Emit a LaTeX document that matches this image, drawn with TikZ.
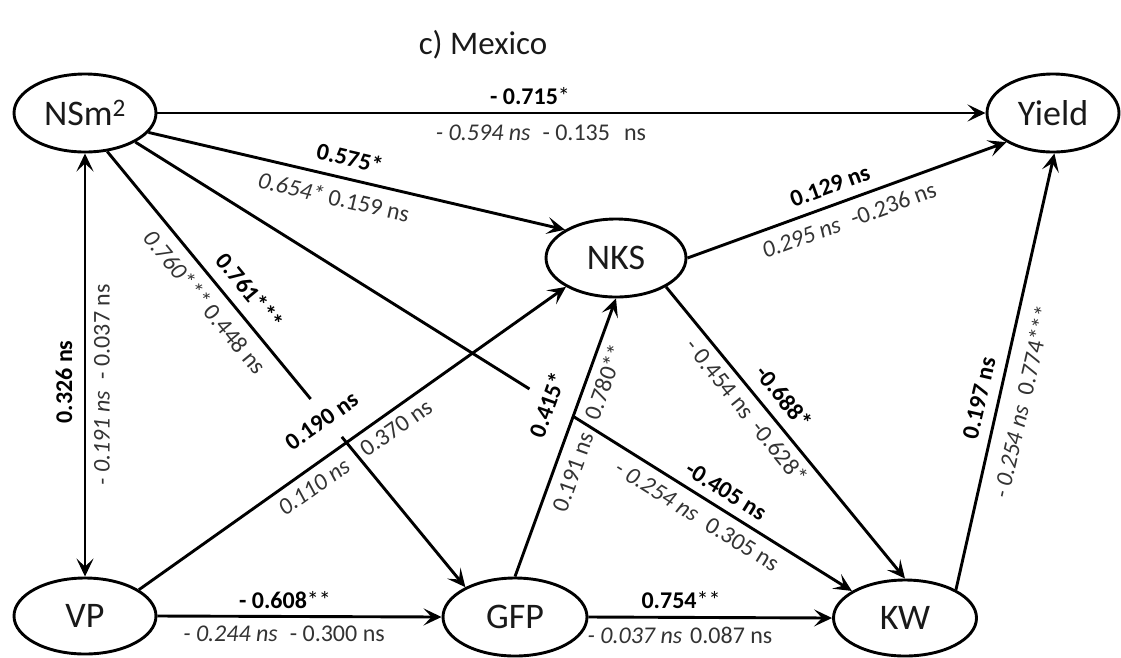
\documentclass[tikz,border=0pt]{standalone}
\usepackage{fontspec}
\setmainfont{Carlito}
\usetikzlibrary{arrows.meta,shapes.geometric,calc}
\begin{document}
\begin{tikzpicture}[x=1pt,y=-1pt,
  >={Stealth[length=18pt,width=17pt,inset=8pt]},
  varnode/.style={ellipse, draw, line width=2.9pt, inner sep=0pt, font=\fontsize{36}{40}\selectfont, text=black!90},
  conn/.style={line width=2.9pt},
  lab/.style={inner sep=0pt, font=\fontsize{24}{28}\selectfont, text=black!80},
  blab/.style={inner sep=0pt, font=\fontsize{24}{28}\selectfont\bfseries, text=black},
]
\useasboundingbox (0,0) rectangle (1121,657);

\node[font=\fontsize{33}{36}\selectfont, text=black!90] (title) at (483,45) {c) Mexico};

% variables
\node[varnode, minimum width=142pt, minimum height=78pt] (nsm) at (85,113) {NSm\textsuperscript{2}};
\node[varnode, minimum width=132pt, minimum height=78pt] (yield) at (1053,113) {Yield};
\node[varnode, minimum width=140pt, minimum height=78pt] (nks) at (616,258) {NKS};
\node[varnode, minimum width=142pt, minimum height=76pt] (vp) at (85,616) {VP};
\node[varnode, minimum width=144pt, minimum height=78pt] (gfp) at (515,617) {GFP};
\node[varnode, minimum width=143pt, minimum height=76pt] (kw) at (905,618) {KW};

% break points of the two interrupted connectors
\coordinate (a1) at ($(nsm.-60)!0.568!(gfp.149)$);
\coordinate (a2) at ($(nsm.-60)!0.655!(gfp.149)$);
\coordinate (b1) at ($(nsm.-30)!0.55!(kw.153)$);
\coordinate (b2) at ($(nsm.-30)!0.61!(kw.153)$);

% connectors
\draw[conn,->] (nsm.east) -- (yield.west);
\draw[conn,->] (nsm.-17) -- (nks.151);
\draw[conn,<->] (nsm.south) -- (vp.north);
\draw[conn] (nsm.-60) -- (a1);
\draw[conn,->] (a2) -- (gfp.149);
\draw[conn] (nsm.-30) -- (b1);
\draw[conn,->] (b2) -- (kw.153);
\draw[conn,->] (nks.east) -- (yield.212);
\draw[conn,->] (nks.-30) -- (kw.north);
\draw[conn,->] (vp.26) -- (nks.210);
\draw[conn,->] (vp.east) -- (gfp.west);
\draw[conn,->] (gfp.north) -- (nks.south);
\draw[conn,->] (gfp.east) -- (kw.west);
\draw[conn,->] (kw.29) -- (yield.-88);

% labels
\node[blab] (l1a) at (530,96) {- 0.715\mdseries*};
\node[lab] (l1b) at (541,133) {\textit{- 0.594 ns}\hspace{12pt}- 0.135\hspace{14pt}ns};

\node[blab, rotate=-13] (l2a) at (350,158) {0.575*};
\node[lab, rotate=-13] (l2b) at (334,197) {\textit{0.654*} 0.159 ns};

\node[blab, rotate=90] (l3a) at (64,382) {0.326 ns};
\node[lab, rotate=90] (l3b) at (102,385) {\textit{- 0.191 ns}\hspace{12pt}- 0.037 ns};

\node[blab, rotate=-50.5] (l4a) at (250,291) {0.761***};
\node[lab, rotate=-50.5] (l4b) at (205,302) {\textit{0.760***} 0.448 ns};

\node[blab, rotate=-32] (l5a) at (726,491) {-0.405 ns};
\node[lab, rotate=-32] (l5b) at (697,516) {\textit{- 0.254 ns}\hspace{12pt}0.305 ns};

\node[blab, rotate=20] (l6a) at (830,186) {0.129 ns};
\node[lab, rotate=20] (l6b) at (849,220) {\textit{0.295 ns}\hspace{12pt}-0.236 ns};

\node[blab, rotate=-51] (l7a) at (784,397) {-0.688*};
\node[lab, rotate=-51] (l7b) at (747,411) {- 0.454 ns\hspace{10pt}-0.628*};

\node[blab, rotate=35.2] (l8a) at (322,421) {0.190 ns};
\node[lab, rotate=35.2] (l8b) at (314,487) {\textit{0.110 ns}};
\node[lab, rotate=35.2] (l8c) at (396,428) {0.370 ns};

\node[blab] (l9a) at (285,600) {- 0.608\mdseries**};
\node[lab] (l9b) at (284,634) {\textit{- 0.244 ns}\hspace{12pt}- 0.300 ns};

\node[blab, rotate=70.3] (l10a) at (547,405) {0.415*};
\node[lab, rotate=70.3] (l10b) at (573,472) {0.191 ns};
\node[lab, rotate=70.3] (l10c) at (604,382) {0.780**};

\node[blab] (l12a) at (681,600) {0.754\mdseries**};
\node[lab] (l12b) at (680,635) {\textit{- 0.037 ns}\hspace{8pt}0.087 ns};

\node[blab, rotate=77] (l11a) at (979,398) {0.197 ns};
\node[lab, rotate=77] (l11b) at (1022,402) {\textit{- 0.254 ns}\hspace{12pt}0.774***};
\end{tikzpicture}
\end{document}
